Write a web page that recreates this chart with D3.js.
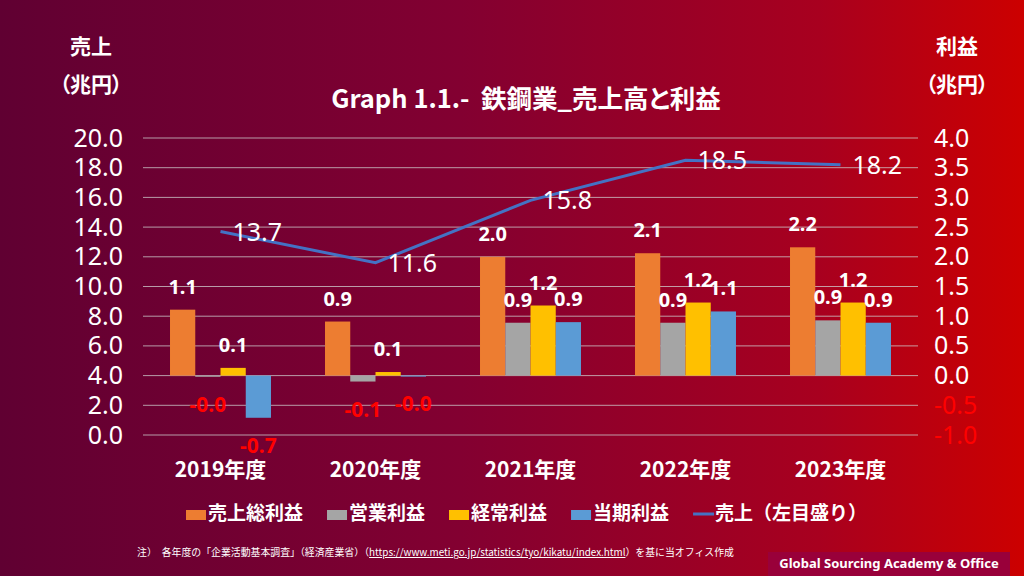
<!DOCTYPE html>
<html><head><meta charset="utf-8">
<script src="https://cdn.jsdelivr.net/npm/d3@7"></script>
<style>
html,body{margin:0;padding:0;background:#600032;}
svg{display:block;font-family:"Noto Sans CJK JP","Noto Sans",sans-serif;font-feature-settings:"palt";}
.nopalt{font-feature-settings:normal;}
</style></head><body>
<svg id="chart" width="1024" height="576"></svg>
<script>
const categories = ["2019年度","2020年度","2021年度","2022年度","2023年度"];
const seriesNames = ["売上総利益","営業利益","経常利益","当期利益"];
const grossProfit = [1.11, 0.91, 2.00, 2.06, 2.16];
const operatingProfit = [-0.02, -0.10, 0.89, 0.89, 0.93];
const ordinaryProfit = [0.13, 0.06, 1.18, 1.23, 1.23];
const netProfit = [-0.71, -0.01, 0.90, 1.08, 0.89];
const sales = [13.7, 11.6, 15.8, 18.5, 18.2];
const lineName = "売上（左目盛り）";
const leftTicks = [0,2,4,6,8,10,12,14,16,18,20];
const rightTicks = [-1.0,-0.5,0,0.5,1.0,1.5,2.0,2.5,3.0,3.5,4.0];
const barColors = ["#ED7D31","#A5A5A5","#FFC000","#5B9BD5"];
const lineColor = "#4472C4";

const profitSeries = [grossProfit, operatingProfit, ordinaryProfit, netProfit];

const svg = d3.select("#chart");
const W = 1024, H = 576;
const defs = svg.append("defs");
const grad = defs.append("linearGradient").attr("id","bg").attr("x1","0").attr("y1","0").attr("x2","1").attr("y2","0");
grad.append("stop").attr("offset","0").attr("stop-color","#600032");
grad.append("stop").attr("offset","0.45").attr("stop-color","#830031");
grad.append("stop").attr("offset","0.8").attr("stop-color","#a8001f");
grad.append("stop").attr("offset","1").attr("stop-color","#cc0000");
svg.append("rect").attr("width",W).attr("height",H).attr("fill","url(#bg)");

const plot = {left:143, right:918, top:138, bottom:435};
const x = d3.scaleBand().domain(categories).range([plot.left, plot.right]).padding(0);
const xs = d3.scaleBand().domain(seriesNames).range([0, x.bandwidth()]).paddingInner(0).paddingOuter(1.07);
const yL = d3.scaleLinear().domain([0,20]).range([plot.bottom, plot.top]);
const yR = d3.scaleLinear().domain([-1,4]).range([plot.bottom, plot.top]);

// gridlines
svg.append("g").selectAll("line").data(leftTicks).join("line")
  .attr("x1",plot.left).attr("x2",plot.right)
  .attr("y1",d=>yL(d)).attr("y2",d=>yL(d))
  .attr("stroke","#d0d0d0").attr("stroke-opacity",0.75).attr("stroke-width",1);

// left axis
const axL = svg.append("g").attr("transform",`translate(${plot.left},0)`)
  .call(d3.axisLeft(yL).tickValues(leftTicks).tickFormat(d=>d.toFixed(1)).tickSize(0).tickPadding(20));
axL.select(".domain").remove();
axL.selectAll("text").attr("fill","#fff").style("font-size","25px").style("font-family","'Noto Sans',sans-serif");

// right axis
const axR = svg.append("g").attr("transform",`translate(${plot.right},0)`)
  .call(d3.axisRight(yR).tickValues(rightTicks).tickFormat(d=>d.toFixed(1)).tickSize(0).tickPadding(16));
axR.select(".domain").remove();
axR.selectAll("text").attr("fill",d=>d<0?"#ff0000":"#fff").style("font-size","25px").style("font-family","'Noto Sans',sans-serif");

// bars
const barData = [];
categories.forEach((c,i)=>{
  seriesNames.forEach((s,j)=>{ barData.push({c, s, j, v: profitSeries[j][i]}); });
});
svg.append("g").selectAll("rect").data(barData).join("rect")
  .attr("x",d=>x(d.c)+xs(d.s))
  .attr("width",xs.bandwidth())
  .attr("y",d=>yR(Math.max(0,d.v)))
  .attr("height",d=>Math.max(1,Math.abs(yR(d.v)-yR(0))))
  .attr("fill",d=>barColors[d.j]);

// bar labels
svg.append("g").selectAll("text").data(barData).join("text")
  .attr("x",d=>x(d.c)+xs(d.s)+xs.bandwidth()/2)
  .attr("y",d=>d.v>=0 ? yR(d.v)-16 : yR(d.v)+35)
  .attr("text-anchor","middle")
  .attr("fill",d=>d.v<0?"#ff0000":"#fff")
  .style("font-size",d=>d.v<0?"21px":"20px").style("font-weight","bold")
  .style("font-family","'Noto Sans',sans-serif")
  .text(d=>d.v.toFixed(1));

// line
const line = d3.line().x((d,i)=>x(categories[i])+x.bandwidth()/2).y(d=>yL(d));
svg.append("path").datum(sales).attr("d",line)
  .attr("fill","none").attr("stroke",lineColor).attr("stroke-width",3);
svg.append("g").selectAll("text").data(sales).join("text")
  .attr("x",(d,i)=>x(categories[i])+x.bandwidth()/2+12)
  .attr("y",d=>yL(d))
  .attr("dy","0.36em")
  .attr("fill","#fff")
  .style("font-size","25px")
  .style("font-family","'Noto Sans',sans-serif")
  .text(d=>d.toFixed(1));

// category labels
svg.append("g").selectAll("text").data(categories).join("text")
  .attr("x",d=>x(d)+x.bandwidth()/2)
  .attr("y",477)
  .attr("text-anchor","middle").attr("fill","#fff")
  .style("font-size","21px").style("font-weight","bold")
  .text(d=>d);

// title
svg.append("text").attr("x",526).attr("y",108).attr("text-anchor","middle")
  .attr("fill","#fff").style("font-size","25.5px").style("font-weight","bold")
  .style("white-space","pre")
  .text("Graph 1.1.-  鉄鋼業_売上高と利益");

// axis titles
const axisTitle = (cx, lines) => {
  lines.forEach((t,k)=>svg.append("text").attr("x",cx).attr("y",k===0?54:92)
    .attr("text-anchor","middle").attr("fill","#fff")
    .style("font-size","21px").style("font-weight","bold").text(t));
};
axisTitle(91, ["売上","（兆円）"]);
axisTitle(957, ["利益","（兆円）"]);

// legend
const legendItems = seriesNames.map((s,j)=>({name:s, color:barColors[j], type:"bar"}))
  .concat([{name:lineName, color:lineColor, type:"line"}]);
const lg = svg.append("g");
let lx = 186;
legendItems.forEach(it=>{
  const g = lg.append("g").attr("transform",`translate(${lx},515)`);
  if(it.type==="bar"){
    g.append("rect").attr("x",0).attr("y",-5).attr("width",20).attr("height",10).attr("fill",it.color);
  } else {
    g.append("line").attr("x1",0).attr("x2",21).attr("y1",-1).attr("y2",-1).attr("stroke",it.color).attr("stroke-width",3);
  }
  const t = g.append("text").attr("class","nopalt").attr("x",22).attr("y",-2).attr("dy","0.35em").attr("fill","#fff")
    .style("font-size","19px").style("font-weight","bold").text(it.name);
  const w = t.node().getComputedTextLength();
  lx += 22 + w + 24;
});

// footer box
svg.append("rect").attr("x",768).attr("y",552).attr("width",242).attr("height",24).attr("fill","#99003a");
svg.append("text").attr("x",889).attr("y",568).attr("text-anchor","middle").attr("fill","#fff")
  .style("font-size","13px").style("font-weight","bold").style("font-family","'Noto Sans',sans-serif")
  .text("Global Sourcing Academy & Office");

// note
const note = svg.append("text").attr("class","nopalt").attr("x",137).attr("y",556).attr("fill","#fff").style("font-size","9.9px");
note.append("tspan").text("注）　各年度の「企業活動基本調査」（経済産業省）（");
note.append("tspan").attr("text-decoration","underline").text("https://www.meti.go.jp/statistics/tyo/kikatu/index.html");
note.append("tspan").text("）を基に当オフィス作成");
</script>
</body></html>
